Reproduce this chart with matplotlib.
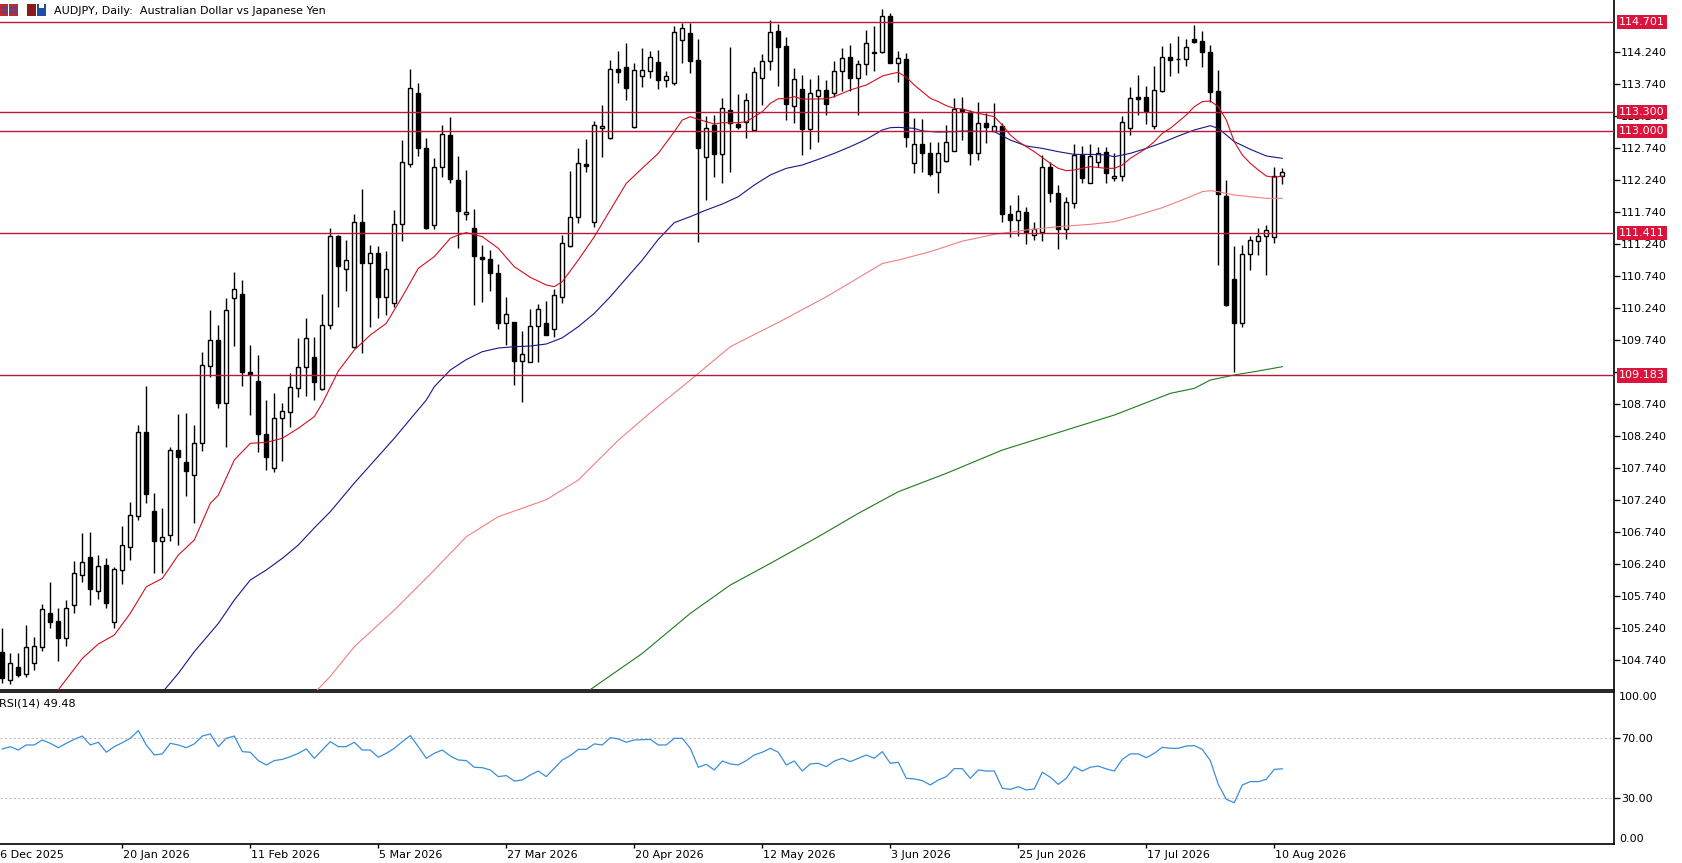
import numpy as np
import pandas as pd
import matplotlib
matplotlib.use("Agg")
import matplotlib.pyplot as plt
import matplotlib.transforms as mtransforms
from matplotlib.patches import Rectangle

W, H = 1683, 863

# daily candles, bar 0 = 29 Dec 2025 ... bar 160 = 11 Aug 2026
opens = [104.866, 104.423, 104.621, 104.511, 104.683, 104.944, 105.475, 105.345, 105.074, 105.595,
         106.064, 106.340, 105.814, 106.220, 105.324, 106.142, 106.496, 106.990, 108.293, 107.064,
         106.600, 106.689, 108.017, 107.834, 107.621, 108.121, 109.335, 109.735, 108.746, 110.387,
         110.454, 109.230, 109.095, 108.267, 107.740, 108.512, 108.605, 108.980, 109.308, 109.465,
         108.965, 109.970, 111.360, 110.840, 109.631, 111.574, 110.944, 111.090, 110.402, 110.319,
         111.543, 112.480, 113.600, 112.741, 111.532, 112.434, 112.939, 112.235, 111.704, 111.480,
         111.032, 110.996, 110.777, 110.006, 110.012, 109.413, 109.397, 109.960, 109.996, 109.902,
         110.402, 111.204, 111.652, 112.485, 111.585, 113.043, 112.897, 113.965, 113.996, 113.069,
         113.866, 113.939, 114.074, 113.798, 113.756, 114.423, 114.527, 114.110, 112.590, 113.095,
         112.642, 113.330, 113.110, 113.137, 113.017, 113.824, 114.100, 114.564, 114.329, 113.397,
         113.652, 113.027, 113.553, 113.642, 113.600, 113.939, 114.152, 113.834, 114.043, 114.241,
         114.241, 114.798, 114.058, 114.121, 112.496, 112.793, 112.663, 112.366, 112.532, 112.694,
         113.345, 113.303, 112.652, 113.121, 113.006, 113.084, 111.699, 111.610, 111.730, 111.376,
         111.428, 112.433, 112.027, 111.470, 111.871, 112.626, 112.194, 112.522, 112.668, 112.272,
         112.303, 113.043, 113.527, 113.527, 113.079, 113.626, 114.163, 114.121, 114.121, 114.433,
         114.407, 114.230, 113.631, 111.986, 110.683, 110.006, 111.074, 111.288, 111.360, 111.340,
         112.303]
highs = [105.230, 104.850, 104.850, 105.290, 105.100, 105.606, 105.960, 105.543, 105.673, 106.288,
         106.715, 106.730, 106.376, 106.335, 106.194, 106.830, 107.210, 108.407, 109.022, 107.340,
         107.116, 108.069, 108.579, 108.590, 108.402, 109.553, 110.204, 109.970, 110.387, 110.803,
         110.673, 109.657, 109.501, 108.798, 108.902, 108.746, 109.215, 109.762, 110.074, 109.787,
         110.454, 111.480, 111.376, 111.298, 111.704, 112.090, 111.220, 111.204, 111.131, 111.767,
         112.860, 113.965, 113.756, 112.887, 112.574, 113.095, 113.215, 112.610, 112.392, 111.777,
         111.220, 111.142, 110.923, 110.402, 110.022, 109.876, 110.215, 110.293, 110.345, 110.527,
         111.376, 112.381, 112.741, 112.871, 113.163, 113.407, 114.110, 114.251, 114.371, 114.058,
         114.293, 114.251, 114.267, 113.944, 114.647, 114.694, 114.694, 114.433, 113.241, 113.251,
         113.512, 114.308, 113.574, 113.600, 114.006, 114.199, 114.735, 114.668, 114.475, 113.980,
         113.876, 113.808, 113.876, 113.798, 114.100, 114.293, 114.345, 114.110, 114.579, 114.642,
         114.902, 114.850, 114.251, 114.225, 113.199, 113.183, 112.835, 112.835, 113.095, 113.512,
         113.538, 113.329, 113.460, 113.277, 113.433, 113.121, 111.845, 112.001, 111.819, 111.574,
         112.621, 112.522, 112.157, 111.975, 112.798, 112.772, 112.793, 112.756, 112.756, 112.652,
         113.236, 113.683, 113.876, 113.704, 114.017, 114.329, 114.381, 114.485, 114.433, 114.657,
         114.564, 114.345, 113.954, 112.236, 111.204, 111.220, 111.360, 111.491, 111.532, 112.444,
         112.418]
lows = [104.370, 104.360, 104.475, 104.475, 104.580, 104.880, 105.240, 104.725, 104.960, 105.475,
        105.960, 105.595, 105.684, 105.543, 105.230, 105.918, 106.298, 106.923, 107.184, 106.090,
        106.090, 106.600, 106.532, 107.298, 106.871, 108.006, 109.163, 108.678, 108.058, 109.642,
        109.022, 108.564, 107.980, 107.704, 107.668, 107.850, 108.381, 108.850, 108.866, 108.798,
        108.954, 109.900, 110.256, 110.506, 109.605, 109.527, 109.933, 110.074, 110.126, 110.246,
        111.288, 112.444, 112.616, 111.470, 111.470, 112.288, 112.183, 111.168, 111.610, 110.283,
        110.335, 110.506, 109.902, 109.658, 109.033, 108.772, 109.397, 109.397, 109.814, 109.788,
        110.308, 111.183, 111.569, 112.366, 111.506, 112.600, 112.881, 113.746, 113.485, 113.043,
        113.683, 113.824, 113.652, 113.683, 113.720, 114.069, 113.913, 111.272, 111.923, 112.288,
        112.183, 112.366, 113.027, 112.887, 113.001, 113.408, 113.954, 113.704, 113.173, 113.121,
        112.626, 112.715, 112.834, 113.251, 113.538, 113.631, 113.631, 113.251, 113.876, 113.944,
        114.215, 114.058, 113.772, 112.746, 112.340, 112.366, 112.298, 112.027, 112.522, 112.694,
        112.861, 112.470, 112.548, 112.808, 113.006, 111.584, 111.340, 111.360, 111.230, 111.298,
        111.288, 111.897, 111.152, 111.314, 111.793, 112.194, 112.194, 112.444, 112.183, 112.225,
        112.225, 112.939, 113.251, 113.105, 113.027, 113.616, 113.860, 113.902, 114.017, 114.381,
        114.006, 113.459, 110.907, 110.267, 109.241, 109.944, 110.829, 111.064, 110.751, 111.246,
        112.178]
closes = [104.449, 104.694, 104.501, 104.944, 104.959, 105.527, 105.335, 105.074, 105.553, 106.090,
          106.272, 105.840, 106.210, 105.620, 106.152, 106.532, 106.996, 108.293, 107.324, 106.600,
          106.652, 108.017, 107.913, 107.694, 108.121, 109.340, 109.735, 108.746, 110.199, 110.527,
          109.230, 109.204, 108.262, 107.902, 108.512, 108.626, 108.996, 109.308, 109.762, 109.085,
          109.965, 111.360, 110.897, 110.985, 111.574, 110.944, 111.090, 110.402, 110.840, 111.543,
          112.512, 113.668, 112.730, 111.480, 112.434, 112.954, 112.246, 111.756, 111.735, 111.053,
          110.996, 110.777, 110.006, 110.137, 109.413, 109.517, 109.960, 110.215, 109.814, 110.433,
          111.246, 111.652, 112.496, 112.459, 113.090, 113.074, 113.965, 113.928, 113.668, 113.954,
          113.954, 114.152, 113.798, 113.866, 114.543, 114.605, 114.100, 112.730, 113.053, 112.642,
          113.366, 113.121, 113.069, 113.485, 113.923, 114.100, 114.543, 114.319, 113.423, 113.808,
          113.032, 113.590, 113.642, 113.418, 113.939, 114.137, 113.834, 114.043, 114.371, 114.225,
          114.798, 114.058, 114.137, 112.913, 112.793, 112.663, 112.324, 112.663, 112.835, 113.345,
          113.314, 112.663, 113.121, 113.069, 113.084, 111.699, 111.610, 111.756, 111.428, 111.475,
          112.433, 112.038, 111.470, 111.897, 112.626, 112.272, 112.611, 112.663, 112.350, 112.303,
          113.137, 113.512, 113.501, 113.314, 113.642, 114.163, 114.110, 114.126, 114.308, 114.387,
          114.230, 113.616, 112.012, 110.282, 109.996, 111.074, 111.298, 111.360, 111.454, 112.303,
          112.355]

# RSI(14), one value per bar
rsi = [62.5, 64.1, 61.9, 65.2, 65.2, 68.5, 66.3, 63.4, 66.3, 68.9,
       71.1, 65.2, 67.0, 60.4, 64.1, 66.7, 69.6, 74.7, 65.2, 58.6,
       59.3, 66.3, 65.2, 63.4, 65.9, 71.1, 72.5, 64.1, 69.6, 71.1,
       60.8, 60.4, 54.9, 52.0, 54.9, 55.7, 57.5, 59.7, 62.6, 56.4,
       61.9, 67.4, 64.1, 64.1, 67.0, 61.9, 61.9, 57.1, 59.7, 63.0,
       67.4, 71.4, 64.1, 56.4, 59.7, 61.9, 57.9, 55.3, 54.9, 50.5,
       50.2, 48.7, 44.3, 45.0, 41.4, 42.1, 45.4, 48.0, 44.3, 49.8,
       55.3, 58.2, 62.3, 62.3, 65.9, 65.2, 70.0, 69.2, 67.0, 68.5,
       68.7, 68.9, 65.2, 65.2, 69.6, 69.6, 63.0, 50.5, 52.4, 48.7,
       54.6, 52.7, 52.0, 54.9, 58.6, 60.4, 63.0, 60.4, 52.0, 54.6,
       48.0, 52.7, 53.1, 50.9, 54.6, 56.4, 54.2, 56.4, 58.6, 56.4,
       60.8, 53.1, 53.8, 43.2, 42.8, 41.7, 38.8, 42.1, 44.3, 49.6,
       49.6, 43.2, 48.7, 48.0, 48.0, 36.6, 35.9, 37.7, 35.5, 36.2,
       47.2, 43.9, 39.2, 43.2, 50.9, 48.0, 50.5, 51.3, 49.4, 48.0,
       55.7, 59.3, 59.3, 56.8, 59.7, 63.7, 63.0, 63.0, 64.5, 64.8,
       62.3, 54.9, 39.2, 29.3, 27.1, 38.8, 41.0, 41.0, 42.5, 49.1,
       49.48]

# moving averages at sample bars
ma_red_bar = [6, 7, 10, 12, 14, 16, 18, 20, 22, 24, 26, 27, 29, 31, 33, 35, 37, 39, 40, 42,
              44, 46, 48, 50, 52, 54, 56, 57, 58, 60, 62, 64, 66, 68, 69, 70, 72, 74, 76, 78,
              80, 82, 84, 85, 86, 87, 88, 89, 90, 92, 93, 94, 95, 96, 97, 98, 99, 100, 102, 103,
              104, 106, 108, 109, 110, 111, 112, 113, 114, 115, 116, 117, 118, 119, 120, 122, 124, 125, 126, 127,
              129, 131, 132, 133, 134, 136, 138, 139, 140, 141, 142, 143, 144, 145, 146, 147, 148, 149, 150, 151,
              152, 153, 154, 155, 156, 157, 158, 159, 160]
ma_red_val = [104.15, 104.27, 104.76, 104.985, 105.126, 105.465, 105.88, 106.01, 106.376, 106.61,
              107.184, 107.31, 107.86, 108.121, 108.136, 108.2, 108.356, 108.538, 108.746, 109.25,
              109.58, 109.813, 109.996, 110.413, 110.855, 111.038, 111.324, 111.376, 111.413, 111.35,
              111.168, 110.881, 110.715, 110.595, 110.569, 110.647, 110.985, 111.35, 111.767, 112.183,
              112.42, 112.652, 112.991, 113.173, 113.225, 113.183, 113.147, 113.11, 113.131, 113.131,
              113.147, 113.225, 113.303, 113.433, 113.506, 113.506, 113.538, 113.501, 113.501, 113.506,
              113.538, 113.642, 113.72, 113.788, 113.86, 113.892, 113.918, 113.84, 113.72, 113.616,
              113.512, 113.46, 113.397, 113.355, 113.345, 113.277, 113.225, 113.095, 112.939, 112.835,
              112.678, 112.496, 112.418, 112.381, 112.392, 112.444, 112.418, 112.418, 112.47, 112.574,
              112.652, 112.73, 112.835, 112.965, 113.043, 113.147, 113.251, 113.381, 113.46, 113.47,
              113.381, 113.173, 112.835, 112.626, 112.496, 112.392, 112.298, 112.277, 112.298]

ma_blue_bar = [20, 22, 24, 27, 29, 31, 33, 35, 37, 39, 41, 44, 49, 51, 53, 54, 56, 58, 60, 62,
               64, 66, 68, 70, 72, 74, 76, 78, 80, 82, 84, 86, 88, 90, 92, 94, 96, 98, 100, 102,
               104, 106, 108, 110, 111, 112, 114, 115, 117, 119, 120, 124, 126, 128, 130, 132, 134, 136, 138, 139,
               141, 143, 145, 147, 149, 151, 152, 153, 154, 156, 158, 160]
ma_blue_val = [104.23, 104.527, 104.866, 105.306, 105.673, 105.986, 106.142, 106.324, 106.532, 106.8,
               107.053, 107.5, 108.2, 108.5, 108.797, 109.006, 109.267, 109.43, 109.553, 109.61,
               109.631, 109.642, 109.673, 109.77, 109.944, 110.152, 110.413, 110.7, 110.985, 111.308,
               111.569, 111.663, 111.767, 111.86, 111.975, 112.157, 112.314, 112.418, 112.47, 112.558,
               112.652, 112.756, 112.871, 113.017, 113.053, 113.058, 113.043, 113.001, 112.985, 112.991,
               113.001, 112.991, 112.86, 112.767, 112.73, 112.678, 112.636, 112.636, 112.626, 112.6,
               112.652, 112.73, 112.819, 112.923, 113.017, 113.084, 113.043, 112.939, 112.835, 112.715,
               112.611, 112.574]

ma_salmon_bar = [39, 41, 44, 49, 54, 58, 62, 68, 72, 77, 81, 86, 91, 97, 103, 110, 112, 116, 120, 124,
                 128, 132, 136, 139, 142, 145, 148, 150, 151, 152, 154, 156, 158, 160]
ma_salmon_val = [104.22, 104.48, 104.943, 105.516, 106.141, 106.662, 106.974, 107.24, 107.548, 108.17,
                 108.6, 109.11, 109.631, 110.01, 110.41, 110.93, 110.985, 111.116, 111.28, 111.386,
                 111.454, 111.506, 111.543, 111.584, 111.689, 111.803, 111.949, 112.053, 112.069, 112.053,
                 112.001, 111.975, 111.949, 111.949]

ma_green_bar = [73, 80, 86, 91, 96, 102, 107, 112, 118, 125, 131, 139, 146, 149, 151, 154, 157, 160]
ma_green_val = [104.23, 104.839, 105.464, 105.907, 106.245, 106.662, 107.027, 107.365, 107.652, 108.016,
                108.251, 108.563, 108.902, 108.98, 109.11, 109.189, 109.251, 109.319]

levels = [114.701, 113.300, 113.000, 111.411, 109.183]
price_ticks = [104.740, 105.240, 105.740, 106.240, 106.740, 107.240, 107.740, 108.240, 108.740,
               109.240, 109.740, 110.240, 110.740, 111.240, 111.740, 112.240, 112.740, 113.240,
               113.740, 114.240]
date_labels = ["2025-12-26", "2026-01-20", "2026-02-11", "2026-03-05", "2026-03-27", "2026-04-20",
               "2026-05-12", "2026-06-03", "2026-06-25", "2026-07-17", "2026-08-10"]

# trading days, 1 Jan skipped; the first one (26 Dec) sits just left of the view
days = [d for d in pd.bdate_range("2025-12-26", "2026-08-11") if d != pd.Timestamp("2026-01-01")]
bar_of = {d: i - 1 for i, d in enumerate(days)}

LEVEL_CLR = "#b31b3d"
BOX_CLR = "#dc143c"

fig = plt.figure(figsize=(W / 100, H / 100), dpi=100)
fig.patch.set_facecolor("white")
plt.rcParams["font.family"] = ["DejaVu Sans"]

# ---- price panel
ax = fig.add_axes([0, 1 - 690 / H, 1614 / W, 690 / H])
ax.set_xlim(-2.3 / 8, (1614 - 2.3) / 8)
ax.set_ylim(104.267, 115.048)

x = np.arange(len(opens))
o, h, l, c = map(np.array, (opens, highs, lows, closes))
up = c >= o
ax.vlines(x, l, h, color="black", lw=1.0, zorder=2)
lo = np.minimum(o, c)
ht = np.abs(c - o)
ax.bar(x[up], ht[up], bottom=lo[up], width=0.5, color="white", edgecolor="black", lw=1.0, zorder=3)
ax.bar(x[~up], ht[~up], bottom=lo[~up], width=0.5, color="black", edgecolor="black", lw=1.0, zorder=3)

ax.plot(ma_salmon_bar, ma_salmon_val, color="#f08080", lw=0.8, zorder=4)
ax.plot(ma_green_bar, ma_green_val, color="#1e7b1e", lw=0.8, zorder=4)
ax.plot(ma_blue_bar, ma_blue_val, color="#16168c", lw=0.8, zorder=4)
ax.plot(ma_red_bar, ma_red_val, color="#d0101e", lw=0.8, zorder=4)

for lv in levels:
    ax.axhline(lv, color=LEVEL_CLR, lw=1.0, zorder=5)

trans = mtransforms.blended_transform_factory(ax.transAxes, ax.transData)
for lv in levels:
    ax.text(1 + 5 / 1614, lv, f"{lv:.3f}", transform=trans, color="white", fontsize=8,
            va="center", ha="left", clip_on=False, zorder=10,
            bbox=dict(boxstyle="square,pad=0.2", fc=BOX_CLR, ec="none"))

ax.yaxis.tick_right()
ax.set_yticks(price_ticks)
ax.set_yticklabels([f"{v:.3f}" for v in price_ticks], fontsize=8)
ax.tick_params(axis="y", direction="out", length=4, width=1, pad=1)
ax.set_xticks([])
for s in ("left", "top"):
    ax.spines[s].set_visible(False)
for s in ("right", "bottom"):
    ax.spines[s].set_linewidth(1.2)

# ---- RSI panel
rax = fig.add_axes([0, 1 - 844 / H, 1614 / W, 152 / H])
rax.set_xlim(ax.get_xlim())
rax.set_ylim(-0.17, 100.17)
rax.plot(np.arange(len(rsi)), rsi, color="#3a8fd9", lw=0.9, zorder=3)
for lv in (70, 30):
    rax.axhline(lv, color="#c0c0c0", lw=0.8, ls=(0, (2, 2)), zorder=1)
rax.yaxis.tick_right()
rax.set_yticks([70, 30])
rax.set_yticklabels(["70.00", "30.00"], fontsize=8)
rax.tick_params(axis="y", direction="out", length=4, width=1, pad=1)
rtrans = mtransforms.blended_transform_factory(rax.transAxes, rax.transData)
rax.text(1 + 5 / 1614, 100, "100.00", transform=rtrans, fontsize=8, va="top", ha="left", clip_on=False)
rax.text(1 + 5 / 1614, 0, "0.00", transform=rtrans, fontsize=8, va="bottom", ha="left", clip_on=False)
rax.spines["left"].set_visible(False)
for s in ("right", "bottom", "top"):
    rax.spines[s].set_linewidth(1.2)

tick_bars = [bar_of[pd.Timestamp(d)] for d in date_labels]
rax.set_xticks([b for b in tick_bars if b >= 0])
rax.set_xticklabels([])
rax.tick_params(axis="x", direction="out", length=3, width=1)
btrans = mtransforms.blended_transform_factory(rax.transData, fig.transFigure)
for b, d in zip(tick_bars, date_labels):
    ts = pd.Timestamp(d)
    # the first label hangs off the left edge, as in the terminal
    off = 0.15 if b >= 0 else -0.2
    rax.text(b + off, 1 - 855 / H, f"{ts.day} {ts.strftime('%b %Y')}", transform=btrans,
             fontsize=8, va="center", ha="left", clip_on=False)

fig.text(-1 / W, 1 - 704 / H, "RSI(14) 49.48", fontsize=8, va="center", ha="left")

# ---- header
fig.text(54 / W, 1 - 11 / H, "AUDJPY, Daily:  Australian Dollar vs Japanese Yen", fontsize=8,
         va="center", ha="left")

def px_rect(x0, y0, w, h, **kw):
    fig.patches.append(Rectangle((x0 / W, 1 - (y0 + h) / H), w / W, h / H,
                                 transform=fig.transFigure, **kw))

px_rect(0, 4, 18, 12, fc="#c62828", ec="none")
for yy in (7, 11):
    px_rect(1, yy, 16, 2, fc="#3050b0", ec="none")
px_rect(8, 4, 1.5, 12, fc="white", ec="none")
px_rect(27, 4, 9, 12, fc="#8b1a1a", ec="none")
px_rect(37, 4, 9, 12, fc="#1f4fa0", ec="none")
px_rect(39, 4, 5, 4, fc="white", ec="none")

fig.savefig("out.png", dpi=100, facecolor="white")
